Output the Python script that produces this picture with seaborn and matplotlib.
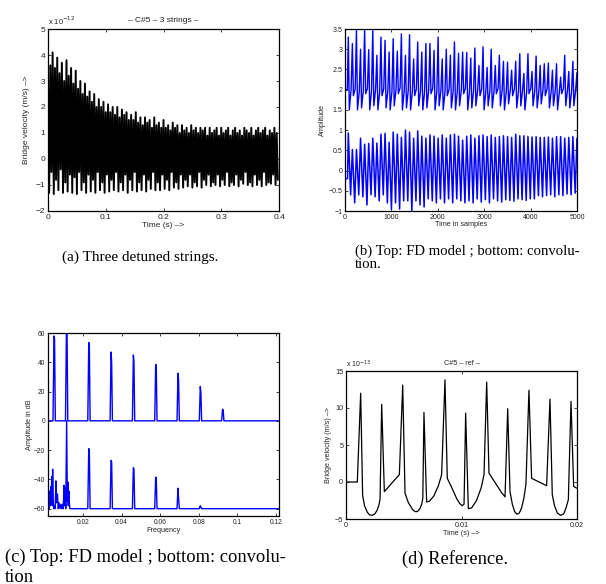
import seaborn as sns
import matplotlib.pyplot as plt
import numpy as np

# --- panel (a): three detuned strings, peaks / troughs (x 1e-12 m/s) ---
a_peaks = [
    3.0, 3.6, 4.1, 3.5, 3.9, 3.3, 3.7, 3.0, 3.8, 3.2,
    3.5, 2.9, 3.4, 2.7, 3.0, 2.5, 2.9, 2.4, 2.6, 2.2,
    2.5, 2.0, 2.3, 2.0, 2.2, 1.8, 2.1, 1.8, 2.0, 1.7,
    2.0, 1.6, 1.9, 1.7, 1.8, 1.5, 1.7, 1.5, 1.8, 1.4,
    1.6, 1.3, 1.6, 1.4, 1.5, 1.2, 1.6, 1.3, 1.4, 1.2,
    1.5, 1.2, 1.3, 1.1, 1.4, 1.2, 1.3, 1.0, 1.3, 1.1,
    1.2, 1.0, 1.3, 1.1, 1.2, 1.0, 1.2, 1.1, 1.2, 0.9,
    1.2, 1.0, 1.1, 1.2, 0.9, 1.2, 1.0, 1.1, 1.2, 0.9,
    1.1, 1.2, 1.0, 1.1, 0.9, 1.2, 1.1, 1.0, 1.2, 0.9,
    1.1, 1.2, 1.0, 1.1, 1.2, 0.9, 1.1, 1.0, 1.2, 1.0,
]
a_troughs = [
    -1.30, -0.50, -1.35, -0.80, -1.20, -0.40, -1.30, -0.90, -1.25, -0.60,
    -1.30, -0.70, -1.35, -0.50, -1.20, -0.90, -1.30, -0.60, -1.25, -0.80,
    -1.30, -0.50, -1.20, -0.90, -1.30, -0.60, -1.25, -0.80, -1.20, -0.50,
    -1.25, -0.90, -1.20, -0.60, -1.30, -0.80, -1.20, -0.50, -1.25, -0.90,
    -1.20, -0.60, -1.25, -0.80, -1.15, -0.50, -1.20, -0.90, -1.20, -0.60,
    -1.15, -0.80, -1.20, -0.50, -1.10, -0.90, -1.15, -0.60, -1.10, -0.80,
    -1.05, -0.60, -1.10, -0.90, -1.05, -0.50, -1.10, -0.80, -1.00, -0.60,
    -1.05, -0.90, -1.00, -0.60, -1.05, -0.80, -1.00, -0.50, -1.05, -0.90,
    -1.00, -0.60, -1.05, -0.80, -0.95, -0.50, -1.00, -0.90, -1.05, -0.60,
    -1.00, -0.80, -1.05, -0.50, -1.00, -0.90, -0.95, -0.60, -1.00, -0.80,
]

# --- panel (b): FD model (top) and convolution (bottom), one value per period ---
b_top_peaks = [
    3.30, 3.14, 3.47, 3.00, 3.50, 2.99, 3.47, 2.85, 3.30, 3.22,
    2.93, 3.26, 2.95, 3.38, 2.85, 3.36, 2.76, 3.18, 2.93, 3.14,
    3.14, 2.97, 3.30, 2.76, 3.00, 2.85, 3.18, 2.90, 2.93, 2.92,
    2.78, 3.03, 2.60, 3.06, 2.55, 3.00, 2.60, 2.85, 2.70, 2.68,
    2.48, 2.70, 2.89, 2.40, 2.89, 2.45, 2.83, 2.60, 2.64, 2.66,
    2.48, 2.64, 2.31, 2.85, 2.45, 2.70, 2.42,
]
b_top_lows = [
    1.50, 1.85, 1.50, 1.55, 1.90, 1.50, 1.60, 1.50, 1.85, 1.55,
    1.50, 1.60, 1.90, 1.50, 1.55, 1.50, 1.85, 1.60, 1.50, 1.55,
    1.90, 1.50, 1.60, 1.50, 1.85, 1.55, 1.50, 1.60, 1.90, 1.50,
    1.55, 1.60, 1.85, 1.50, 1.60, 1.55, 1.90, 1.60, 1.50, 1.65,
    1.85, 1.55, 1.60, 1.50, 1.90, 1.60, 1.55, 1.65, 1.85, 1.55,
    1.60, 1.50, 1.90, 1.60, 1.55, 1.60, 1.50,
]
b_top_mids = [
    2.00, 2.02, 1.95, 1.98, 2.03, 1.96, 2.00, 1.94, 2.02, 1.97,
    1.95, 2.00, 2.04, 1.96, 1.98, 1.95, 2.02, 1.97, 1.94, 1.99,
    2.03, 1.95, 1.98, 1.94, 2.01, 1.97, 1.95, 1.99, 2.04, 1.96,
    1.97, 1.99, 2.02, 1.95, 1.98, 1.96, 2.03, 1.99, 1.95, 2.00,
    2.02, 1.96, 1.99, 1.94, 2.03, 1.98, 1.96, 2.00, 2.02, 1.95,
    1.98, 1.94, 2.03, 1.99, 1.96, 2.00, 1.95,
]
b_bot_peaks = [
    0.93, 0.52, 0.52, 0.80, 0.65, 0.67, 0.80, 0.68, 0.90, 0.92,
    0.70, 0.95, 0.90, 0.82, 1.00, 0.95, 0.80, 0.98, 0.85, 0.80,
    0.88, 0.85, 0.80, 0.88, 0.80, 0.88, 0.90, 0.85, 0.75, 0.85,
    0.88, 0.80, 0.86, 0.88, 0.84, 0.88, 0.82, 0.84, 0.86, 0.84,
    0.82, 0.90, 0.86, 0.86, 0.84, 0.83, 0.84, 0.82, 0.82, 0.83,
    0.80, 0.84, 0.84, 0.80, 0.82, 0.84, 0.80,
]
b_bot_troughs = [
    -0.60, -0.80, -0.60, -0.65, -0.85, -0.60, -0.65, -0.75, -0.60, -0.80,
    -0.95, -0.80, -0.95, -0.75, -0.75, -1.00, -0.75, -0.85, -0.90, -0.70,
    -0.75, -0.80, -0.70, -0.80, -0.70, -0.80, -0.70, -0.75, -0.80, -0.75,
    -0.80, -0.70, -0.78, -0.72, -0.80, -0.70, -0.75, -0.78, -0.72, -0.74,
    -0.76, -0.70, -0.72, -0.74, -0.70, -0.70, -0.62, -0.65, -0.62, -0.60,
    -0.65, -0.60, -0.62, -0.58, -0.60, -0.56, -0.60,
]

# --- panel (c): spectra in dB ---
c_top_freqs = [0.0051, 0.01155, 0.0231, 0.03465, 0.0462, 0.05775, 0.0693, 0.08085, 0.0924]
c_top_db = [58, 62, 53.5, 47, 45, 38.5, 32.5, 23.5, 8]
c_top_shoulder = [56, 60, 52, 40, 40.5, 38, 28, 19.5, 7]
c_noise_freqs = [0.0019, 0.0022, 0.0025, 0.0028, 0.0031, 0.0033, 0.0036, 0.0038,
                 0.0041, 0.0043, 0.0046, 0.0049, 0.0052, 0.0056, 0.0060, 0.0064,
                 0.0068, 0.0072, 0.0076, 0.0081, 0.0085, 0.0090, 0.0094, 0.0098,
                 0.0102, 0.0105, 0.0108, 0.0111, 0.01155, 0.0119, 0.0122, 0.0124,
                 0.0127, 0.0129, 0.0132, 0.0135]
c_noise_db = [-60, -50, -60, -48, -58, -45, -55, -38, -58, -33, -55, -60,
              -58, -60, -41, -56, -50, -60, -56, -60, -57, -60, -57, -60,
              -44, -58, -46, -60, 0, -55, -42, -58, -48, -55, -60, -60]
c_bot_freqs = [0.0231, 0.03465, 0.0462, 0.05775, 0.0693, 0.08085]
c_bot_db = [-19, -27, -32, -38.5, -46, -58]
c_bot_shoulder = [-20, -28, -33, -39, -53, -59]

# --- panel (d): reference signal (x 1e-13 m/s) ---
d_time = [0, 0.00098, 0.00127, 0.00144, 0.00160, 0.00185, 0.00205, 0.00228,
          0.00250, 0.00270, 0.00285, 0.00295, 0.00309, 0.00332, 0.00462, 0.00491,
          0.00511, 0.00540, 0.00580, 0.00600, 0.00618, 0.00640, 0.00655, 0.00665,
          0.00675, 0.00698, 0.00722, 0.00760, 0.00800, 0.00828, 0.00857, 0.00877,
          0.00920, 0.00960, 0.00985, 0.01005, 0.01022, 0.01036, 0.01059, 0.01088,
          0.01130, 0.01170, 0.01195, 0.01218, 0.01238, 0.01300, 0.01350, 0.01377,
          0.01400, 0.01420, 0.01440, 0.01460, 0.01480, 0.01500, 0.01520, 0.01540,
          0.01558, 0.01584, 0.01607, 0.01737, 0.01766, 0.01786, 0.01805, 0.01830,
          0.01859, 0.01885, 0.01905, 0.01925, 0.01948, 0.01971, 0.02]
d_value = [0, 0, 12.0, -1.8, -3.2, -4.1, -4.45, -4.5,
           -4.3, -3.8, -3.1, -2.3, 10.5, -1.3, 1.0, 13.1,
           -1.5, -2.8, -3.8, -4.0, -4.0, -3.6, -3.0, -2.2,
           9.4, -2.7, -2.6, -1.9, -0.5, 1.0, 13.8, 0.5,
           -0.9, -2.3, -2.9, -3.2, -3.0, 9.3, -3.6, -3.5,
           -2.5, -0.8, 1.0, 13.5, 1.2, -0.3, -1.5, -2.0,
           9.9, -1.3, -3.0, -4.0, -4.35, -4.2, -3.5, -2.2,
           -0.3, 12.4, 0.5, -0.5, 11.2, -1.7, -3.2, -4.2,
           -4.5, -4.3, -3.5, -2.4, 10.9, -0.6, -0.85]

sns.set_theme(style="ticks")
plt.rcParams['font.family'] = ['Liberation Sans', 'DejaVu Sans']
plt.rcParams['text.color'] = '#222222'

fig = plt.figure(figsize=(6.06, 5.84), dpi=100)
W, H = 606, 584


def make_axes(left, top, right, bottom):
    return fig.add_axes([left / W, 1 - bottom / H, (right - left) / W, (bottom - top) / H])


def style(ax, size):
    ax.tick_params(direction='in', top=True, right=True, length=2.5, width=0.6,
                   labelsize=size, pad=2, colors='#222222')
    for sp in ax.spines.values():
        sp.set_linewidth(0.9)
        sp.set_color('black')


# (a)
ax_a = make_axes(48, 29, 279, 211)
t_pk = np.arange(100) * 0.004
t_tr = t_pk + 0.002
a_t = np.column_stack([t_pk, t_tr]).ravel()
a_v = np.column_stack([a_peaks, a_troughs]).ravel()
sns.lineplot(x=a_t, y=a_v, sort=False, estimator=None, color='black', lw=1.4, ax=ax_a)
ax_a.set_xlim(0, 0.4)
ax_a.set_ylim(-2, 5)
ax_a.set_xticks([0, 0.1, 0.2, 0.3, 0.4])
ax_a.set_xticklabels(['0', '0.1', '0.2', '0.3', '0.4'])
ax_a.set_yticks(range(-2, 6))
style(ax_a, 6)
ax_a.set_xlabel('Time (s) –>', fontsize=6, labelpad=1)
ax_a.set_ylabel('Bridge velocity (m/s) –>', fontsize=6, labelpad=4)
ax_a.set_title('– C#5 – 3 strings –', fontsize=6, pad=5)
ax_a.text(0, 1.01, r'x 10$^{-12}$', transform=ax_a.transAxes, fontsize=5.5, ha='left', va='bottom')

# (b)
ax_b = make_axes(345, 29, 577, 211)
s_k = np.arange(71, 5000, 88)
top_x = np.concatenate([[0, 50], np.column_stack([s_k, s_k + 22, s_k + 60]).ravel()])
top_y = np.concatenate([[2.0, 2.0], np.column_stack([b_top_peaks, b_top_lows, b_top_mids]).ravel()])
bot_x = np.concatenate([[0, 55], np.column_stack([s_k, s_k + 50]).ravel()])
bot_y = np.concatenate([[-0.2, -0.2], np.column_stack([b_bot_peaks, b_bot_troughs]).ravel()])
sns.lineplot(x=top_x, y=top_y, sort=False, estimator=None, color='blue', lw=1.0, ax=ax_b)
sns.lineplot(x=bot_x, y=bot_y, sort=False, estimator=None, color='blue', lw=1.1, ax=ax_b)
ax_b.set_xlim(0, 5000)
ax_b.set_ylim(-1, 3.5)
ax_b.set_xticks(range(0, 5001, 1000))
ax_b.set_yticks([-1, -0.5, 0, 0.5, 1, 1.5, 2, 2.5, 3, 3.5])
ax_b.set_yticklabels(['−1', '−0.5', '0', '0.5', '1', '1.5', '2', '2.5', '3', '3.5'])
style(ax_b, 5)
ax_b.set_xlabel('Time in samples', fontsize=5.2, labelpad=0.5)
ax_b.set_ylabel('Amplitude', fontsize=5.2, labelpad=2)

# (c)
ax_c = make_axes(48, 333, 279, 516)
c_xmin, c_xmax = 0.0019, 0.1215
tx, ty = [c_xmin], [0]
for f, h, s in zip(c_top_freqs, c_top_db, c_top_shoulder):
    tx += [f - 0.0006, f - 0.0001, f + 0.0002, f + 0.0006]
    ty += [0, h, s, 0]
tx.append(c_xmax)
ty.append(0)
bx, by = list(c_noise_freqs), list(c_noise_db)
for f, h, s in zip(c_bot_freqs, c_bot_db, c_bot_shoulder):
    bx += [f - 0.0006, f - 0.0001, f + 0.0002, f + 0.0006]
    by += [-60, h, s, -60]
bx.append(c_xmax)
by.append(-60)
sns.lineplot(x=tx, y=ty, sort=False, estimator=None, color='blue', lw=1.0, ax=ax_c)
sns.lineplot(x=bx, y=by, sort=False, estimator=None, color='blue', lw=1.0, ax=ax_c)
ax_c.set_xlim(c_xmin, c_xmax)
ax_c.set_ylim(-65, 60)
ax_c.set_xticks([0.02, 0.04, 0.06, 0.08, 0.1, 0.12])
ax_c.set_xticklabels(['0.02', '0.04', '0.06', '0.08', '0.1', '0.12'])
ax_c.set_yticks(range(-60, 61, 20))
ax_c.set_yticklabels(['−60', '−40', '−20', '0', '20', '40', '60'])
style(ax_c, 4.8)
ax_c.set_xlabel('Frequency', fontsize=5.2, labelpad=1)
ax_c.set_ylabel('Amplitude in dB', fontsize=5.2, labelpad=1)

# (d)
ax_d = make_axes(346, 371, 577, 519)
sns.lineplot(x=d_time, y=d_value, sort=False, estimator=None, color='black', lw=0.9, ax=ax_d)
ax_d.set_xlim(0, 0.02)
ax_d.set_ylim(-5, 15)
ax_d.set_xticks([0, 0.01, 0.02])
ax_d.set_xticklabels(['0', '0.01', '0.02'])
ax_d.set_yticks([-5, 0, 5, 10, 15])
ax_d.set_yticklabels(['−5', '0', '5', '10', '15'])
style(ax_d, 5.2)
ax_d.set_xlabel('Time (s) –>', fontsize=5.2, labelpad=1)
ax_d.set_ylabel('Bridge velocity (m/s) –>', fontsize=5.2, labelpad=2)
ax_d.set_title('C#5 – ref –', fontsize=5.2, pad=4)
ax_d.text(0, 1.01, r'x 10$^{-13}$', transform=ax_d.transAxes, fontsize=5, ha='left', va='bottom')

# captions
serif = 'Liberation Serif'
fig.text(62 / W, 1 - 257 / H, '(a) Three detuned strings.', fontsize=11, family=serif, va='center', color='black')
fig.text(355 / W, 1 - 251 / H, '(b) Top: FD model ; bottom: convolu-', fontsize=10.6, family=serif, va='center', color='black')
fig.text(355 / W, 1 - 265 / H, 'tion.', fontsize=10.6, family=serif, va='center', color='black')
fig.text(5 / W, 1 - 557 / H, '(c) Top: FD model ; bottom: convolu-', fontsize=13.3, family=serif, va='center', color='black')
fig.text(5 / W, 1 - 577 / H, 'tion', fontsize=13.3, family=serif, va='center', color='black')
fig.text(402 / W, 1 - 559 / H, '(d) Reference.', fontsize=13.3, family=serif, va='center', color='black')

fig.savefig('out.png', dpi=100)
